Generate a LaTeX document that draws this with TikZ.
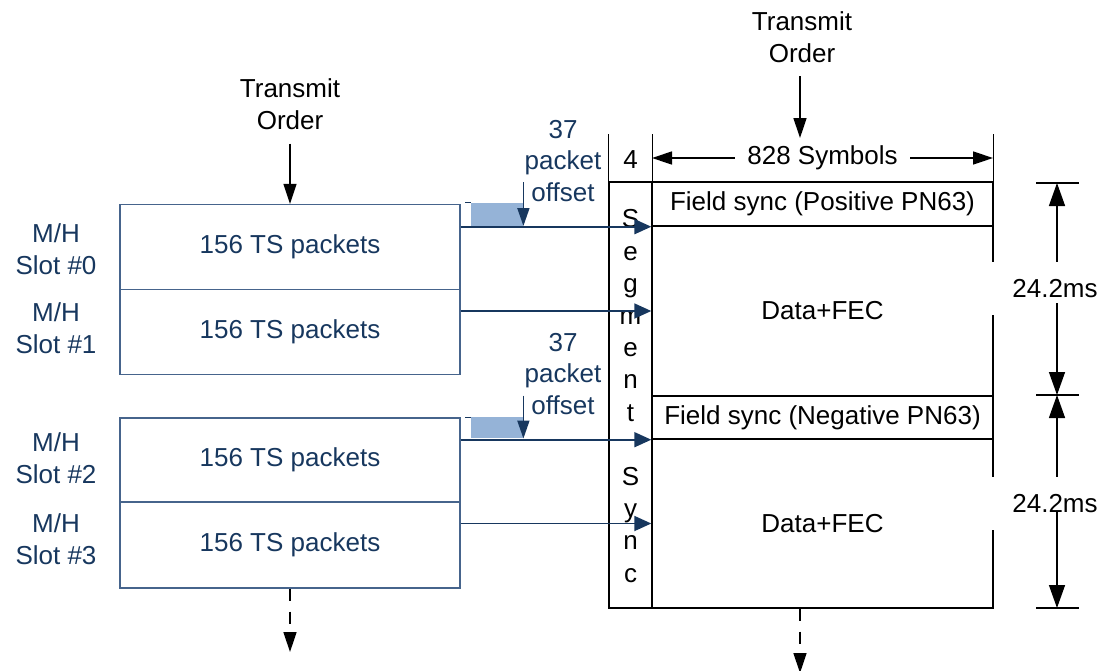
\documentclass[tikz,border=0pt]{standalone}
\usepackage{fontspec}
\setmainfont{Liberation Sans}
\usetikzlibrary{arrows.meta,calc}
\definecolor{navy}{RGB}{23,55,94}
\definecolor{slotedge}{RGB}{70,100,140}
\definecolor{offsetfill}{RGB}{149,179,215}
\begin{document}
\begin{tikzpicture}[x=1pt,y=-1pt,
  font=\fontsize{26}{31.5}\selectfont,
  slotbox/.style={draw=slotedge, line width=1.3pt, minimum width=340pt, text=navy, inner sep=0pt},
  framebox/.style={draw=black, line width=1.4pt, inner sep=0pt},
  navytext/.style={text=navy, align=center, inner sep=0pt},
  plaintext/.style={align=center, inner sep=0pt},
  blk/.style={line width=1.4pt, -{Triangle[length=20pt,width=13pt]}},
  dimtip/.style={line width=1.4pt, -{Triangle[length=23pt,width=16pt]}},
  bluearrow/.style={draw=navy, line width=1.8pt, -{Triangle[length=17pt,width=15pt]}},
  offarrow/.style={draw=navy, line width=1.8pt, -{Triangle[length=18pt,width=12pt]}},
  offbox/.style={fill=offsetfill, minimum width=52pt, inner sep=0pt, anchor=south west},
  dashedarrow/.style={blk, dash pattern=on 12pt off 11pt},
  msbox/.style={fill=white, minimum width=132pt, minimum height=53pt, inner sep=0pt}
]
\useasboundingbox (0,0) rectangle (1101,670);

% ---- left: M/H slots of TS packets ----
\node[slotbox, minimum height=85pt] (s0) at (290,247) {156 TS packets};
\node[slotbox, minimum height=85pt] (s1) at (290,332) {156 TS packets};
\node[slotbox, minimum height=84pt] (s2) at (290,460) {156 TS packets};
\node[slotbox, minimum height=86pt] (s3) at (290,545) {156 TS packets};

\node[navytext, font=\fontsize{26}{32}\selectfont] (l0) at (56,249) {M/H\\Slot \#0};
\node[navytext, font=\fontsize{26}{32}\selectfont] (l1) at (56,328) {M/H\\Slot \#1};
\node[navytext, font=\fontsize{26}{32}\selectfont] (l2) at (56,458) {M/H\\Slot \#2};
\node[navytext, font=\fontsize{26}{32}\selectfont] (l3) at (56,539) {M/H\\Slot \#3};

\node[plaintext] (tl) at (290,104) {Transmit\\Order};
\draw[blk] ([yshift=-14pt]tl.south) -- (s0.north);
\coordinate (bl) at (290,652);
\draw[dashedarrow] (s3.south) -- (bl);

% ---- right: field structure ----
\node[framebox, minimum width=43pt, minimum height=426pt] (seg) at (630.5,395) {};
\node[plaintext, font=\fontsize{26}{32.2}\selectfont] (segtxt) at (630.5,396)
  {S\\e\\g\\m\\e\\n\\t\\[32.2pt]S\\y\\n\\c};

\node[framebox, minimum width=341pt, minimum height=44pt] (fs1) at (822.5,204) {Field sync (Positive PN63)};
\node[framebox, minimum width=341pt, minimum height=170pt] (df1) at (822.5,311) {Data+FEC};
\node[framebox, minimum width=341pt, minimum height=43pt] (fs2) at (822.5,417.5) {Field sync (Negative PN63)};
\node[framebox, minimum width=341pt, minimum height=169pt] (df2) at (822.5,523.5) {Data+FEC};

% column ticks above the frame
\draw[line width=1.4pt] (seg.north west) -- ++(0,-47);
\draw[line width=1.4pt] (seg.north east) -- ++(0,-47);
\draw[line width=1.4pt] (fs1.north east) -- ++(0,-47);
\node[plaintext] (four) at (630.5,160) {4};

\coordinate (wa) at (652,158);
\coordinate (wb) at (993,158);
\draw[line width=1.4pt, {Triangle[length=20pt,width=13pt]}-{Triangle[length=20pt,width=13pt]}]
  (wa) -- (wb) node[midway, fill=white, inner xsep=12pt, inner ysep=3pt] (sym) {828 Symbols};

\node[plaintext] (tr) at (802,37) {Transmit\\Order};
\coordinate (ta) at (800,76);
\coordinate (tb) at (800,138);
\draw[blk] (ta) -- (tb);
\coordinate (br) at (800,673);
\draw[dashedarrow] (df2.south -| tb) -- (br);

% ---- timing dimensions ----
\coordinate (d0) at (1057,183);
\coordinate (d1) at (1057,395);
\coordinate (d2) at (1057,608);
\foreach \d in {d0,d1,d2} \draw[line width=1.4pt] ($(\d)+(-21,0)$) -- ($(\d)+(22,0)$);
\node[msbox] (m1) at (1055,288.5) {24.2ms};
\node[msbox] (m2) at (1055,503.5) {24.2ms};
\draw[dimtip] (m1.north -| d0) -- (d0);
\draw[dimtip] ($(m1.south -| d0)+(0,-12)$) -- (d1);
\draw[dimtip] (m2.north -| d1) -- (d1);
\draw[dimtip] ($(m2.south -| d1)+(0,-18)$) -- (d2);

% ---- packet offsets ----
\node[offbox, minimum height=23pt] (o0) at (471,226) {};
\draw[navy, line width=1pt] ($(o0.north west)+(-6,0)$) -- (o0.north west);
\node[offbox, minimum height=21pt] (o1) at (471,438.5) {};
\draw[navy, line width=1pt] ($(o1.north west)+(-6,0)$) -- (o1.north west);

\node[navytext] (t0) at (563,161) {37\\packet\\offset};
\node[navytext] (t1) at (563,374) {37\\packet\\offset};

\draw[offarrow] ($(o0.south east)+(0,-44)$) -- (o0.south east);
\draw[offarrow] ($(o1.south east)+(0,-43)$) -- (o1.south east);

% ---- slot to field mapping ----
\draw[bluearrow] (s0.east |- fs1.south) -- (fs1.south west);
\draw[bluearrow] (s1.east |- df1.west) -- (df1.west);
\draw[bluearrow] (s2.east |- fs2.south) -- (fs2.south west);
\draw[bluearrow] (s3.east |- df2.west) -- (df2.west);
\end{tikzpicture}
\end{document}
